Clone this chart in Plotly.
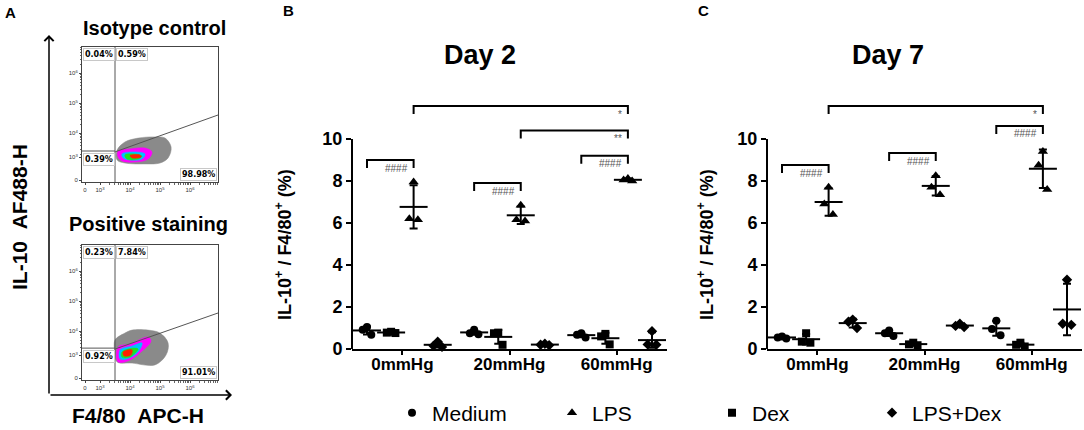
import numpy as np
import plotly.graph_objects as go

# ---- panel B / C data (IL-10+ / F4/80+ %, three replicates per group) ----
groups = ["0mmHg", "20mmHg", "60mmHg"]
treatments = ["Medium", "LPS", "Dex", "LPS+Dex"]

day2_medium = [[1.05, 0.92, 0.68], [0.92, 0.75, 0.70], [0.75, 0.68, 0.55]]
day2_lps = [[7.95, 6.20, 6.15], [6.85, 6.15, 6.10], [8.12, 8.05, 8.00]]
day2_dex = [[0.82, 0.78, 0.76], [0.78, 0.75, 0.20], [0.72, 0.60, 0.22]]
day2_lpsdex = [[0.35, 0.15, 0.10], [0.25, 0.20, 0.18], [0.85, 0.22, 0.20]]

day7_medium = [[0.60, 0.55, 0.50], [0.88, 0.75, 0.62], [1.35, 0.95, 0.65]]
day7_lps = [[7.70, 6.90, 6.40], [8.25, 7.70, 7.35], [9.40, 8.75, 7.60]]
day7_dex = [[0.75, 0.35, 0.30], [0.30, 0.22, 0.18], [0.30, 0.20, 0.12]]
day7_lpsdex = [[1.40, 1.30, 1.00], [1.20, 1.10, 1.05], [3.30, 1.20, 1.15]]

# significance brackets: (group1, treatment1, group2, treatment2, height, label)
day2_brackets = [
    ("0mmHg", "Medium", "0mmHg", "LPS", 9.0, "####"),
    ("20mmHg", "Medium", "20mmHg", "LPS", 7.9, "####"),
    ("60mmHg", "Medium", "60mmHg", "LPS", 9.2, "####"),
    ("0mmHg", "LPS", "60mmHg", "LPS", 11.57, "*"),
    ("20mmHg", "LPS", "60mmHg", "LPS", 10.4, "**"),
]
day7_brackets = [
    ("0mmHg", "Medium", "0mmHg", "LPS", 8.76, "####"),
    ("20mmHg", "Medium", "20mmHg", "LPS", 9.33, "####"),
    ("60mmHg", "Medium", "60mmHg", "LPS", 10.62, "####"),
    ("0mmHg", "LPS", "60mmHg", "LPS", 11.57, "*"),
]

# ---- panel A data (flow plots, display units: 1 = one decade) ----
iso_quadrants = ["0.04%", "0.59%", "0.39%", "98.98%"]
pos_quadrants = ["0.23%", "7.84%", "0.92%", "91.01%"]
# gate: vertical gate x, horizontal gate y, diagonal start y, diagonal end y
iso_gate = [3.5, 3.41, 3.38, 4.61]
pos_gate = [3.5, 3.44, 3.41, 4.61]

iso_gray = [(3.57, 3.44), (3.83, 3.71), (4.27, 3.84), (4.83, 3.88), (5.17, 3.84), (5.37, 3.54),
            (5.27, 3.18), (5.0, 3.01), (4.5, 2.98), (3.83, 3.01), (3.57, 3.11)]
iso_magenta = [(3.6, 3.41), (4.0, 3.48), (4.5, 3.51), (4.73, 3.38), (4.6, 3.14), (4.17, 3.04),
               (3.73, 3.08), (3.6, 3.21)]
iso_cyan = [(3.73, 3.31), (4.17, 3.38), (4.5, 3.31), (4.4, 3.14), (4.0, 3.11), (3.77, 3.18)]
iso_green = [(3.83, 3.28), (4.17, 3.31), (4.4, 3.24), (4.27, 3.14), (3.9, 3.14)]
iso_red = [(4.0, 3.26), (4.33, 3.28), (4.37, 3.21), (4.07, 3.18)]

pos_gray = [(3.5, 3.71), (3.83, 3.94), (4.07, 4.04), (4.6, 4.04), (5.0, 3.94), (5.27, 3.61),
            (5.2, 3.21), (4.83, 2.88), (4.07, 2.94), (3.57, 2.98), (3.5, 3.28)]
pos_magenta = [(3.6, 3.48), (4.0, 3.58), (4.6, 3.81), (4.7, 3.68), (4.33, 3.28), (3.93, 3.01),
               (3.6, 2.98)]
pos_cyan = [(3.67, 3.38), (4.07, 3.51), (4.4, 3.61), (4.27, 3.31), (3.9, 3.08), (3.67, 3.08)]
pos_green = [(3.73, 3.31), (4.1, 3.44), (4.27, 3.41), (4.0, 3.14), (3.73, 3.14)]
pos_red = [(3.77, 3.31), (4.07, 3.38), (4.03, 3.21), (3.8, 3.18)]

W, H = 1084, 430
BOLD = dict(family="Arial, Liberation Sans", color="black", weight="bold")


def px_x(p):
    return p / W


def px_y(p):
    return 1 - p / H


fig = go.Figure()

# ---------------- panels B and C ----------------
offsets = {"Medium": -0.33, "Dex": -0.105, "LPS": 0.105, "LPS+Dex": 0.33}
symbols = {"Medium": "circle", "LPS": "triangle-up", "Dex": "square", "LPS+Dex": "diamond"}
sizes = {"Medium": 8, "LPS": 9, "Dex": 8, "LPS+Dex": 8}
jitter = [0.0, -0.04, 0.04]

panels = [
    ("x", "y", {"Medium": day2_medium, "LPS": day2_lps, "Dex": day2_dex, "LPS+Dex": day2_lpsdex},
     day2_brackets, True),
    ("x2", "y2", {"Medium": day7_medium, "LPS": day7_lps, "Dex": day7_dex, "LPS+Dex": day7_lpsdex},
     day7_brackets, False),
]

for xa, ya, series, brackets, show_leg in panels:
    for t in treatments:
        vals = np.array(series[t])
        xs, ys = [], []
        for gi in range(len(groups)):
            for ri in range(vals.shape[1]):
                xs.append(gi + offsets[t] + jitter[ri])
                ys.append(vals[gi, ri])
        fig.add_trace(go.Scatter(
            x=xs, y=ys, xaxis=xa, yaxis=ya, mode="markers", name=t, legendgroup=t,
            showlegend=show_leg, cliponaxis=False,
            marker=dict(symbol=symbols[t], size=sizes[t], color="black"),
        ))
        means = vals.mean(axis=1)
        sds = vals.std(axis=1, ddof=1)
        fig.add_trace(go.Scatter(
            x=[gi + offsets[t] for gi in range(len(groups))], y=means, xaxis=xa, yaxis=ya,
            mode="markers", showlegend=False, cliponaxis=False, hoverinfo="skip",
            marker=dict(symbol="line-ew", size=20, line=dict(width=2, color="black")),
            error_y=dict(type="data", array=sds, visible=True, color="black", thickness=2, width=4),
        ))
    # y axis line only up to 10
    fig.add_shape(type="line", xref=xa + " domain", yref=ya, x0=0, x1=0, y0=0, y1=10,
                  line=dict(color="black", width=2))
    for g1, t1, g2, t2, h, lab in brackets:
        x1 = groups.index(g1) + offsets[t1]
        x2 = groups.index(g2) + offsets[t2]
        leg = 0.38
        fig.add_shape(type="path", xref=xa, yref=ya,
                      path=f"M {x1},{h - leg} L {x1},{h} L {x2},{h} L {x2},{h - leg}",
                      line=dict(color="black", width=2))
        fig.add_annotation(x=x2, y=h, xref=xa, yref=ya, text=lab, showarrow=False,
                           xanchor="right", yanchor="middle", xshift=-4, yshift=-8,
                           font=dict(family="Arial", size=10, color="#555555"))

xcommon = dict(range=[-0.47, 2.47], tickvals=[0, 1, 2], ticktext=groups, showline=True,
               linecolor="black", linewidth=2, ticks="outside", ticklen=4, tickwidth=2,
               tickcolor="black", showgrid=False, zeroline=False, automargin=False,
               ticklabelstandoff=-5, tickfont=dict(BOLD, size=17))
ycommon = dict(range=[0, 12], tickvals=[0, 2, 4, 6, 8, 10], showline=False, ticks="outside",
               ticklen=5, tickwidth=2, tickcolor="black", showgrid=False, zeroline=False,
               automargin=False, tickfont=dict(BOLD, size=18))
ydom = [px_y(349), px_y(97)]
fig.update_layout(
    xaxis=dict(xcommon, domain=[px_x(352), px_x(667)]),
    yaxis=dict(ycommon, domain=ydom, anchor="x"),
    xaxis2=dict(xcommon, domain=[px_x(767), px_x(1082)], anchor="y2"),
    yaxis2=dict(ycommon, domain=ydom, anchor="x2"),
)

# ---------------- panel A flow plots ----------------
u_range = [2.4, 6.933]
v_range = [2.377, 6.877]
level_colors = ["#8a8a8a", "#ff00ff", "#00c0ff", "#20e020", "#ff2000"]
minor_vals = [d + np.log10(k) for d in range(3, 7) for k in range(2, 10)]


def flow_panel(xa, ya, levels, quads, gate):
    for pts, col in zip(levels, level_colors):
        fig.add_trace(go.Scatter(
            x=[p[0] for p in pts] + [pts[0][0]], y=[p[1] for p in pts] + [pts[0][1]],
            xaxis=xa, yaxis=ya, mode="lines", fill="toself", fillcolor=col,
            line=dict(color=col, width=0.5, shape="spline", smoothing=1.0),
            showlegend=False, hoverinfo="skip",
        ))
    gx, gy, d0, d1 = gate
    gl = dict(color="#555555", width=1)
    fig.add_shape(type="line", xref=xa, yref=ya, x0=gx, x1=gx, y0=v_range[0], y1=v_range[1], line=gl)
    fig.add_shape(type="line", xref=xa, yref=ya, x0=u_range[0], x1=gx, y0=gy, y1=gy, line=gl)
    fig.add_shape(type="line", xref=xa, yref=ya, x0=gx, x1=u_range[1], y0=d0, y1=d1, line=gl)
    qfont = dict(family="DejaVu Sans", size=8, color="black", weight="bold")
    box = dict(showarrow=False, xref=xa, yref=ya, font=qfont, bgcolor="white",
               bordercolor="#c8c8c8", borderwidth=1, borderpad=1)
    fig.add_annotation(box, x=u_range[0] + 0.03, y=v_range[1] - 0.03, text=quads[0],
                       xanchor="left", yanchor="top")
    fig.add_annotation(box, x=gx + 0.03, y=v_range[1] - 0.03, text=quads[1],
                       xanchor="left", yanchor="top")
    fig.add_annotation(box, x=u_range[0] + 0.03, y=gy - 0.05, text=quads[2],
                       xanchor="left", yanchor="top")
    fig.add_annotation(box, x=u_range[1] - 0.03, y=v_range[0] + 0.03, text=quads[3],
                       xanchor="right", yanchor="bottom")


flow_x = dict(range=u_range, tickvals=[2.5, 3, 4, 5, 6],
              ticktext=["0", "10<sup>3</sup>", "10<sup>4</sup>", "10<sup>5</sup>", "10<sup>6</sup>"],
              showline=True, mirror=True, linecolor="#444444", linewidth=1, ticks="outside",
              ticklen=2, tickcolor="#444444", showgrid=False, zeroline=False, automargin=False,
              tickfont=dict(family="Arial", size=6, color="#333333"),
              minor=dict(tickvals=minor_vals, ticks="outside", ticklen=1.5, tickcolor="#666666"))
flow_y = dict(range=v_range, tickvals=[2.44, 3.2, 4, 5, 6],
              ticktext=["0", "10<sup>3</sup>", "10<sup>4</sup>", "10<sup>5</sup>", "10<sup>6</sup>"],
              showline=True, mirror=True, linecolor="#444444", linewidth=1, ticks="outside",
              ticklen=2, tickcolor="#444444", showgrid=False, zeroline=False, automargin=False,
              tickfont=dict(family="Arial", size=6, color="#333333"),
              minor=dict(tickvals=minor_vals, ticks="outside", ticklen=1.5, tickcolor="#666666"))
fig.update_layout(
    xaxis3=dict(flow_x, domain=[px_x(82), px_x(218)], anchor="y3"),
    yaxis3=dict(flow_y, domain=[px_y(182), px_y(47)], anchor="x3"),
    xaxis4=dict(flow_x, domain=[px_x(82), px_x(218)], anchor="y4"),
    yaxis4=dict(flow_y, domain=[px_y(380), px_y(245)], anchor="x4"),
)
flow_panel("x3", "y3", [iso_gray, iso_magenta, iso_cyan, iso_green, iso_red], iso_quadrants, iso_gate)
flow_panel("x4", "y4", [pos_gray, pos_magenta, pos_cyan, pos_green, pos_red], pos_quadrants, pos_gate)

# big axis arrows of panel A
fig.add_annotation(x=px_x(49), y=px_y(35), xref="paper", yref="paper", text="", showarrow=True,
                   ax=0, ay=360, arrowhead=4, arrowsize=1.2, arrowwidth=1.5, arrowcolor="black")
fig.add_annotation(x=px_x(232), y=px_y(395), xref="paper", yref="paper", text="", showarrow=True,
                   ax=-183, ay=0, arrowhead=4, arrowsize=1.2, arrowwidth=1.5, arrowcolor="black")

# ---------------- text ----------------
texts = [
    ("A", 10, 12, 15, 0), ("B", 288, 10, 15, 0), ("C", 703, 10, 15, 0),
    ("Isotype control", 154, 28, 20, 0), ("Positive staining", 148, 224, 20, 0),
    ("IL-10\u00a0\u00a0AF488-H", 19, 217, 21, -90), ("F4/80\u00a0\u00a0APC-H", 138, 415, 21, 0),
    ("Day 2", 480, 55, 27, 0), ("Day 7", 888, 55, 27, 0),
    ("IL-10<sup>+</sup> / F4/80<sup>+</sup> (%)", 283, 245, 18, -90),
    ("IL-10<sup>+</sup> / F4/80<sup>+</sup> (%)", 705, 245, 18, -90),
]
for txt, x, y, s, ang in texts:
    fig.add_annotation(x=px_x(x), y=px_y(y), xref="paper", yref="paper", text=txt,
                       showarrow=False, textangle=ang, font=dict(BOLD, size=s),
                       xanchor="center", yanchor="middle")

fig.update_layout(
    width=W, height=H, margin=dict(l=0, r=0, t=0, b=0, autoexpand=False),
    paper_bgcolor="white", plot_bgcolor="white",
    font=dict(family="Arial, Liberation Sans", color="black"),
    legend=dict(orientation="h", x=px_x(392), y=px_y(413), xanchor="left", yanchor="middle",
                entrywidth=115, entrywidthmode="pixels",
                font=dict(family="Arial, Liberation Sans", size=21, color="black"),
                bgcolor="rgba(0,0,0,0)"),
)

fig.write_html("out.html", config={"displayModeBar": False},
               post_script="document.body.style.margin='0';")
